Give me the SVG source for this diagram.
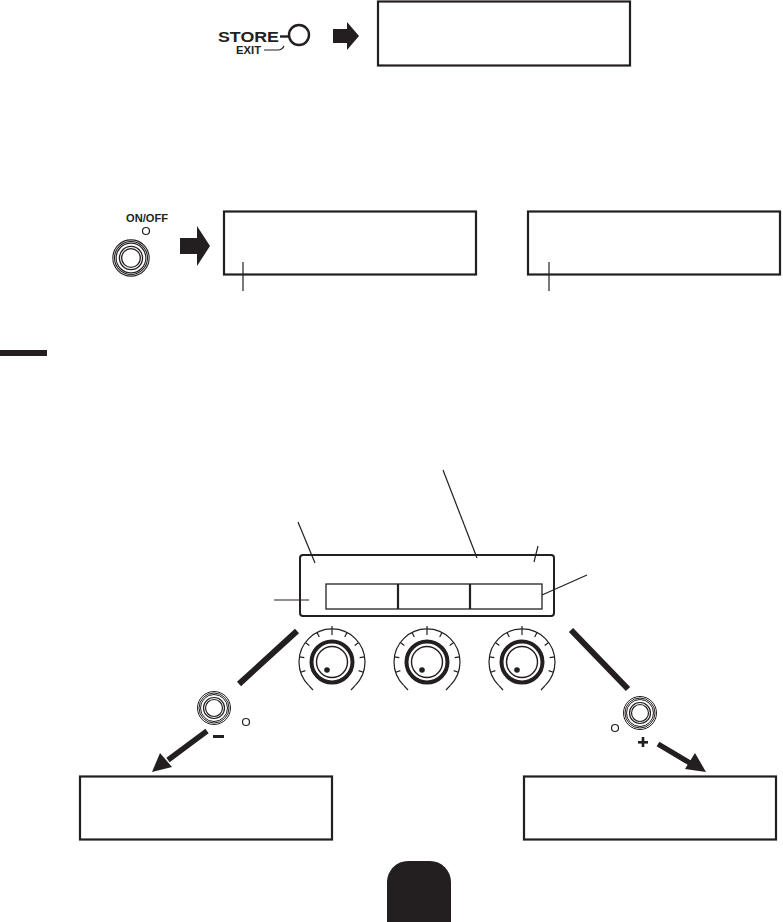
<svg xmlns="http://www.w3.org/2000/svg" width="783" height="922" viewBox="0 0 783 922">
<style>
.box{fill:#fff;stroke:#231f20;stroke-width:2.2}
.ln{fill:none;stroke:#231f20;stroke-width:1.2}
.blk{fill:#231f20}
.lbl{font-family:"Liberation Sans",Arial,sans-serif;font-weight:bold;fill:#231f20}
.tk{fill:none;stroke:#231f20;stroke-width:1.2;stroke-linecap:butt}
</style>
<defs>
<g id="knob">
<path d="M -23.3 23.3 A 33 33 0 1 1 23.3 23.3" class="tk"/>
<g class="tk">
<line x1="0" y1="-27" x2="0" y2="-36"/>
<line x1="0" y1="-28" x2="0" y2="-33" transform="rotate(27)"/>
<line x1="0" y1="-28" x2="0" y2="-33" transform="rotate(54)"/>
<line x1="0" y1="-28" x2="0" y2="-33" transform="rotate(81)"/>
<line x1="0" y1="-28" x2="0" y2="-33" transform="rotate(108)"/>
<line x1="0" y1="-28" x2="0" y2="-33" transform="rotate(-27)"/>
<line x1="0" y1="-28" x2="0" y2="-33" transform="rotate(-54)"/>
<line x1="0" y1="-28" x2="0" y2="-33" transform="rotate(-81)"/>
<line x1="0" y1="-28" x2="0" y2="-33" transform="rotate(-108)"/>
<path d="M -23.3 23.3 L -19 28"/>
<path d="M 23.3 23.3 L 19 28"/>
</g>
<circle r="20.5" fill="none" stroke="#231f20" stroke-width="4"/>
<circle r="15.5" fill="none" stroke="#231f20" stroke-width="1.4"/>
<circle cx="-5" cy="8" r="2.8" class="blk"/>
</g>
<g id="fsw">
<circle r="16.5" fill="none" stroke="#231f20" stroke-width="1"/>
<circle r="15" fill="none" stroke="#231f20" stroke-width="1"/>
<circle r="13.5" fill="none" stroke="#231f20" stroke-width="1"/>
<circle r="10.5" fill="none" stroke="#231f20" stroke-width="1.2"/>
<circle r="8.5" fill="none" stroke="#231f20" stroke-width="1.2"/>
</g>
</defs>

<g id="store-exit">
<text x="218" y="42" class="lbl" font-size="14" textLength="61" lengthAdjust="spacingAndGlyphs">STORE</text>
<line x1="280" y1="36.5" x2="289" y2="36.5" stroke="#231f20" stroke-width="2.4"/>
<text x="236" y="54" class="lbl" font-size="11" textLength="25" lengthAdjust="spacingAndGlyphs">EXIT</text>
<path d="M 264 50 L 278 50 Q 282 50 284 46" class="ln" stroke-width="1.8"/>
<circle cx="299" cy="35" r="10" fill="none" stroke="#231f20" stroke-width="2.4"/>
</g>
<g id="arrow-top"><polygon class="blk" points="333,29 347,29 347,22 359,36 347,50 347,43 333,43"/></g>
<g id="display-top"><rect class="box" x="378" y="1.5" width="252" height="64"/></g>

<g id="onoff">
<text x="126" y="222" class="lbl" font-size="10.5" textLength="42" lengthAdjust="spacingAndGlyphs">ON/OFF</text>
<circle cx="146" cy="231" r="3.5" fill="none" stroke="#231f20" stroke-width="1.2"/>
<use href="#fsw" transform="translate(131,258) scale(1.1)"/>
</g>
<g id="arrow-mid"><polygon class="blk" points="180,238 197,238 197,226 210,246 197,266 197,254 180,254"/></g>
<g id="display-mid1"><rect class="box" x="224" y="211.5" width="252" height="63"/></g>
<g id="display-mid2"><rect class="box" x="528" y="211.5" width="252" height="63"/></g>

<g id="tab-left"><rect class="blk" x="0" y="350" width="47" height="6"/></g>

<g id="panel">
<rect x="300" y="555" width="254" height="61" rx="3" fill="#fff" stroke="#231f20" stroke-width="2"/>
<rect x="326" y="584" width="216" height="25" fill="#fff" stroke="#231f20" stroke-width="1.3"/>
<line x1="398" y1="584" x2="398" y2="609" stroke="#231f20" stroke-width="2.2"/>
<line x1="470" y1="584" x2="470" y2="609" stroke="#231f20" stroke-width="2.2"/>
</g>

<g id="knob1"><use href="#knob" x="332" y="662"/></g>
<g id="knob2"><use href="#knob" x="427" y="662"/></g>
<g id="knob3"><use href="#knob" x="522" y="662"/></g>

<g id="fsw-minus">
<use href="#fsw" x="214" y="708"/>
<circle cx="246" cy="722" r="3.5" fill="none" stroke="#231f20" stroke-width="1.2"/>
<rect x="213" y="735" width="11" height="3" class="blk"/>
</g>
<g id="fsw-plus">
<use href="#fsw" x="640" y="713"/>
<circle cx="615" cy="728" r="3.5" fill="none" stroke="#231f20" stroke-width="1.2"/>
<rect x="638" y="741" width="10" height="2.6" class="blk"/>
<rect x="641.7" y="737" width="2.6" height="10" class="blk"/>
</g>

<g id="display-left"><rect class="box" x="80" y="776.5" width="252" height="63"/></g>
<g id="display-right"><rect class="box" x="524" y="776.5" width="252" height="63"/></g>

<g id="tab-bottom"><path class="blk" d="M 387 922 L 387 882 A 21 21 0 0 1 408 861 L 430 861 A 21 21 0 0 1 451 882 L 451 922 Z"/></g>

<g id="connectors">
<line x1="243" y1="262" x2="243" y2="291" class="ln"/>
<line x1="549" y1="262" x2="549" y2="291" class="ln"/>
<line x1="298" y1="522" x2="315" y2="563" class="ln"/>
<line x1="443" y1="470" x2="477" y2="558" class="ln"/>
<line x1="538" y1="546" x2="534" y2="562" class="ln"/>
<line x1="587" y1="575" x2="542" y2="595" class="ln"/>
<line x1="274" y1="600" x2="309" y2="600" class="ln"/>
<line x1="297" y1="631" x2="239" y2="684" stroke="#231f20" stroke-width="6"/>
<line x1="571" y1="630" x2="628" y2="689" stroke="#231f20" stroke-width="6"/>
<line x1="207" y1="731" x2="168" y2="760" stroke="#231f20" stroke-width="5.5"/>
<polygon class="blk" points="152,772 160,753 172,767"/>
<line x1="658" y1="744" x2="690" y2="763" stroke="#231f20" stroke-width="5.5"/>
<polygon class="blk" points="706,772 685,769 695,753"/>
</g>
</svg>
